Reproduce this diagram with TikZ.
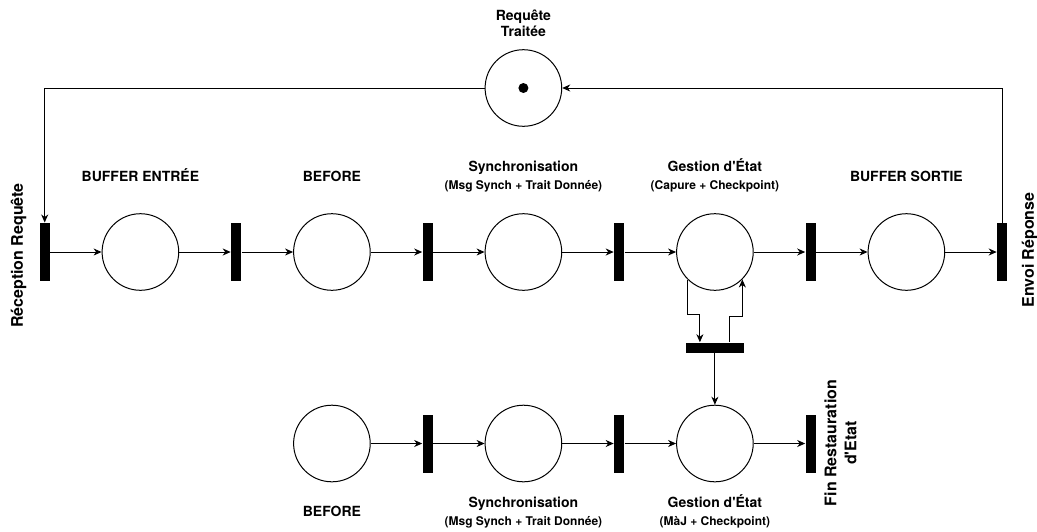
\documentclass[tikz,border=0pt]{standalone}
\usepackage{fontspec}
\setmainfont{TeX Gyre Heros}
\usetikzlibrary{arrows.meta}
\tikzset{
  place/.style={circle,draw,line width=1pt,minimum size=76.6pt,inner sep=0pt},
  trans/.style={rectangle,fill=black,minimum width=10pt,minimum height=58pt,inner sep=0pt},
  htrans/.style={trans,minimum width=58pt,minimum height=10pt},
  ttl/.style={font=\bfseries\fontsize{14}{17}\selectfont,anchor=base},
  subttl/.style={font=\bfseries\fontsize{12}{14}\selectfont,anchor=base},
  side/.style={font=\bfseries\fontsize{16}{20}\selectfont,rotate=90,align=center},
}
\newcommand{\apos}{\textquotesingle}
\begin{document}
\begin{tikzpicture}[x=1pt,y=-1pt,line width=1pt,>={Stealth[length=8pt,width=7pt,inset=2.5pt]}]
  \useasboundingbox (0,0) rectangle (1037,531);
  % top row
  \node[trans] (tIn) at (44.7,252) {};
  \node[place] (pBufIn) at (140.4,252) {};
  \node[trans] (t1) at (236.2,252) {};
  \node[place] (pBefore) at (331.9,252) {};
  \node[trans] (t2) at (427.7,252) {};
  \node[place] (pSync) at (523.4,252) {};
  \node[trans] (t3) at (619.2,252) {};
  \node[place] (pEtat) at (714.9,252) {};
  \node[trans] (t4) at (810.7,252) {};
  \node[place] (pBufOut) at (906.4,252) {};
  \node[trans] (tOut) at (1002.2,252) {};
  % retour
  \node[place] (pTraitee) at (523.4,88) {};
  \fill (pTraitee.center) circle (5);
  \node[htrans] (tCkpt) at (714.9,347.7) {};
  % bottom row
  \node[place] (pBefore2) at (331.9,443.5) {};
  \node[trans] (tb1) at (427.7,443.5) {};
  \node[place] (pSync2) at (523.4,443.5) {};
  \node[trans] (tb2) at (619.2,443.5) {};
  \node[place] (pEtat2) at (714.9,443.5) {};
  \node[trans] (tFin) at (810.7,443.5) {};

  \draw[->] (tIn) -- (pBufIn);
  \draw[->] (pBufIn) -- (t1);
  \draw[->] (t1) -- (pBefore);
  \draw[->] (pBefore) -- (t2);
  \draw[->] (t2) -- (pSync);
  \draw[->] (pSync) -- (t3);
  \draw[->] (t3) -- (pEtat);
  \draw[->] (pEtat) -- (t4);
  \draw[->] (t4) -- (pBufOut);
  \draw[->] (pBufOut) -- (tOut);
  \draw[->] (pTraitee.west) -| (tIn.north);
  \draw[->] (tOut.north) |- (pTraitee.east);
  \draw[->] (pEtat.226) -- ++(0,35) -| ([xshift=-15pt]tCkpt.north);
  \draw[->] ([xshift=15pt]tCkpt.north) -- ++(0,-26) -| (pEtat.-45);
  \draw[->] (tCkpt) -- (pEtat2);
  \draw[->] (pBefore2) -- (tb1);
  \draw[->] (tb1) -- (pSync2);
  \draw[->] (pSync2) -- (tb2);
  \draw[->] (tb2) -- (pEtat2);
  \draw[->] (pEtat2) -- (tFin);

  % labels
  \node[ttl] (lTraitee1) at (523.4,20) {Requête};
  \node[ttl] (lTraitee2) at (523.4,36.5) {Traitée};
  \node[ttl] (lBufIn) at (140.4,181.5) {BUFFER ENTRÉE};
  \node[ttl] (lBefore) at (331.9,181.5) {BEFORE};
  \node[ttl] (lSync) at (523.4,171.5) {Synchronisation};
  \node[subttl] (lSyncSub) at (523.4,189) {(Msg Synch + Trait Donnée)};
  \node[ttl] (lEtat) at (714.9,171.5) {Gestion d\apos État};
  \node[subttl] (lEtatSub) at (714.9,189) {(Capure + Checkpoint)};
  \node[ttl] (lBufOut) at (906.4,181.5) {BUFFER SORTIE};
  \node[side] (lIn) at (18.5,255.5) {Réception Requête};
  \node[side] (lOut) at (1029.5,250) {Envoi Réponse};
  \node[side] (lFin) at (840.5,443) {Fin Restauration\\d\apos Etat};
  \node[ttl] (lBefore2) at (331.9,516) {BEFORE};
  \node[ttl] (lSync2) at (523.4,507) {Synchronisation};
  \node[subttl] (lSyncSub2) at (523.4,525.5) {(Msg Synch + Trait Donnée)};
  \node[ttl] (lEtat2) at (714.9,507) {Gestion d\apos État};
  \node[subttl] (lEtatSub2) at (714.9,525.5) {(MàJ + Checkpoint)};
\end{tikzpicture}
\end{document}
